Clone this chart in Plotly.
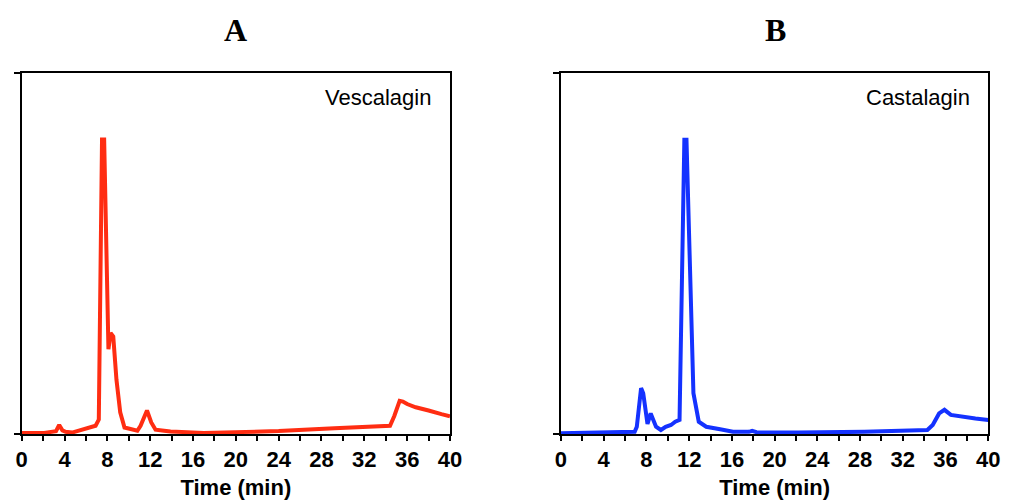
import plotly.graph_objects as go

# Panel A: Vescalagin chromatogram (time in min, relative absorbance %)
vesc_time = [0, 2.1, 3.2, 3.5, 3.8, 4.1, 4.7, 6.0, 6.9, 7.2, 7.5, 7.7, 8.0, 8.1, 8.3, 8.55, 8.85,
             9.2, 9.6, 10.2, 10.8, 11.1, 11.7, 12.1, 12.5, 13.3, 13.9, 17, 20, 24, 29.2, 33.7,
             34.4, 34.8, 35.3, 35.6, 36.0, 36.8, 37.4, 38.0, 39.2, 40]
vesc_abs = [0.3, 0.3, 0.8, 2.5, 1.0, 0.6, 0.4, 1.4, 2.3, 4.0, 81.6, 81.6, 27, 23.5, 28, 27, 15,
            6, 1.8, 1.4, 0.9, 2.3, 6.5, 3.2, 1.2, 0.9, 0.7, 0.3, 0.4, 0.8, 1.6, 2.0,
            2.3, 5.0, 9.2, 9.0, 8.3, 7.4, 7.0, 6.5, 5.5, 4.9]

# Panel B: Castalagin chromatogram
cast_time = [0, 2.9, 3.8, 6.9, 7.1, 7.5, 7.7, 8.0, 8.1, 8.4, 8.6, 8.9, 9.35, 9.8, 10.3, 10.7,
             11.1, 11.3, 11.55, 11.75, 12.1, 12.4, 12.9, 13.6, 14.9, 16.1, 17.6, 17.9, 18.3,
             19.2, 22.2, 28.4, 34.3, 34.8, 35.4, 35.9, 36.5, 37.5, 38.8, 40]
cast_abs = [0.2, 0.4, 0.6, 0.6, 2.0, 12.7, 11.3, 3.0, 2.8, 5.7, 3.9, 2.0, 1.1, 2.0, 2.5, 3.4,
            3.9, 39, 81.5, 81.5, 39, 11.3, 3.4, 2.0, 1.3, 0.6, 0.6, 0.9, 0.5,
            0.4, 0.4, 0.6, 1.1, 2.5, 5.7, 6.7, 5.3, 4.8, 4.3, 3.9]

panel_labels = ["A", "B"]
compound_names = ["Vescalagin", "Castalagin"]
x_ticks = list(range(0, 41, 4))
x_title = "Time (min)"

RED = "#FF2D12"
BLUE = "#1432FF"

fig = go.Figure()
fig.add_trace(go.Scatter(x=vesc_time, y=vesc_abs, mode="lines",
                         line=dict(color=RED, width=4), xaxis="x", yaxis="y",
                         showlegend=False))
fig.add_trace(go.Scatter(x=cast_time, y=cast_abs, mode="lines",
                         line=dict(color=BLUE, width=4), xaxis="x2", yaxis="y2",
                         showlegend=False))

font_sans = "Liberation Sans, Arial, sans-serif"
xcommon = dict(range=[0, 40], tickvals=x_ticks, ticks="outside", ticklen=5, tickwidth=2,
               tickcolor="black", showline=True, linecolor="black", linewidth=2,
               mirror=True, showgrid=False, zeroline=False,
               minor=dict(dtick=2, ticks="outside", ticklen=5, tickwidth=2, tickcolor="black"),
               tickfont=dict(family=font_sans, size=22, color="black", weight="bold"),
               title=dict(text=x_title, standoff=10,
                          font=dict(family=font_sans, size=22, color="black", weight="bold")))
ycommon = dict(range=[0, 100], tickvals=[0, 100], ticks="outside", ticklen=6, tickwidth=2,
               tickcolor="black", showticklabels=False, showline=True, linecolor="black",
               linewidth=2, mirror=True, showgrid=False, zeroline=False)

fig.update_layout(
    width=1014, height=500,
    margin=dict(l=0, r=0, t=0, b=0),
    paper_bgcolor="white", plot_bgcolor="white",
    xaxis=dict(domain=[16/1014, 452/1014], anchor="y", **xcommon),
    yaxis=dict(domain=[66/500, 427/500], anchor="x", **ycommon),
    xaxis2=dict(domain=[565/1014, 1000/1014], anchor="y2", **xcommon),
    yaxis2=dict(domain=[66/500, 427/500], anchor="x2", **ycommon),
)

annotations = [
    dict(text=panel_labels[0], x=234/1014, y=1 - 30/500, xref="paper", yref="paper",
         showarrow=False, xanchor="center", yanchor="middle",
         font=dict(family="Liberation Serif, Times New Roman, serif", size=32,
                   color="black", weight="bold")),
    dict(text=panel_labels[1], x=783/1014, y=1 - 30/500, xref="paper", yref="paper",
         showarrow=False, xanchor="center", yanchor="middle",
         font=dict(family="Liberation Serif, Times New Roman, serif", size=32,
                   color="black", weight="bold")),
    dict(text=compound_names[0], x=435/1014, y=1 - 98/500, xref="paper", yref="paper",
         showarrow=False, xanchor="right", yanchor="middle",
         font=dict(family=font_sans, size=22, color="black")),
    dict(text=compound_names[1], x=983/1014, y=1 - 98/500, xref="paper", yref="paper",
         showarrow=False, xanchor="right", yanchor="middle",
         font=dict(family=font_sans, size=22, color="black")),
]
fig.update_layout(annotations=annotations)

fig.write_html("out.html")
